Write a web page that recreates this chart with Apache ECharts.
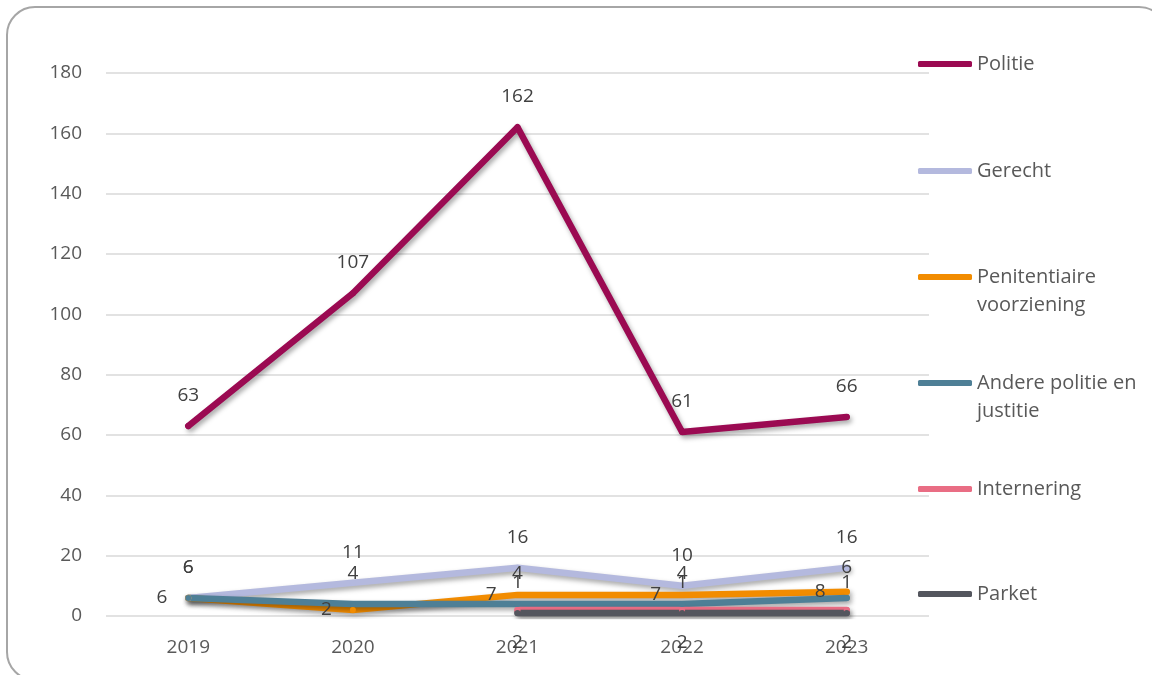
<!DOCTYPE html>
<html>
<head>
<meta charset="utf-8">
<script src="https://cdn.jsdelivr.net/npm/echarts@6/dist/echarts.min.js"></script>
<style>
html,body{margin:0;padding:0;background:#fff;}
#chart{width:1152px;height:675px;}
</style>
</head>
<body>
<div id="chart"></div>
<script>
const years = ['2019', '2020', '2021', '2022', '2023'];
const politie = [63, 107, 162, 61, 66];
const gerecht = [6, 11, 16, 10, 16];
const penitentiaire = [6, 2, 7, 7, 8];
const andere = [6, 4, 4, 4, 6];
const internering = [null, null, 2, 2, 2];
const parket = [null, null, 1, 1, 1];
const yTicks = [0, 20, 40, 60, 80, 100, 120, 140, 160, 180];

const FONT = 'Open Sans';
const chart = echarts.init(document.getElementById('chart'));

function mk(name, data, color, labelPos, dist) {
  return {
    name: name,
    type: 'line',
    data: data,
    symbol: 'circle',
    symbolSize: 6,
    showSymbol: true,
    color: color,
    itemStyle: { color: color },
    lineStyle: { color: color, width: 6.5, cap: 'round', join: 'round',
      shadowColor: 'rgba(0,0,0,0.35)', shadowBlur: 5, shadowOffsetX: 2, shadowOffsetY: 3 },
    label: { show: true, position: labelPos, distance: dist, color: '#404040',
      fontFamily: FONT, fontSize: 19 },
    emphasis: { disabled: true },
    animation: false
  };
}

// [name, vertical centre of icon, number of text lines]
const legendDefs = [
  ['Politie', 64, 1],
  ['Gerecht', 171, 1],
  ['Penitentiaire voorziening', 277, 3],
  ['Andere politie en justitie', 383, 3],
  ['Internering', 489, 1],
  ['Parket', 594, 1]
];
const legends = legendDefs.map(function (d) {
  return {
    data: [d[0]],
    left: 918,
    top: d[1] - d[2] * 14,
    padding: 0,
    orient: 'vertical',
    icon: 'roundRect',
    itemWidth: 54,
    itemHeight: 6,
    selectedMode: false,
    formatter: function (n) {
      if (n === 'Penitentiaire voorziening') return ' \nPenitentiaire\nvoorziening';
      if (n === 'Andere politie en justitie') return ' \nAndere politie en\njustitie';
      return n;
    },
    textStyle: { color: '#595959', fontFamily: FONT, fontSize: 20, lineHeight: 28 }
  };
});

chart.setOption({
  backgroundColor: '#ffffff',
  animation: false,
  graphic: [{
    type: 'rect',
    shape: { x: 7, y: 7, width: 1160, height: 673, r: 28 },
    style: { fill: 'none', stroke: '#A6A6A6', lineWidth: 2 },
    silent: true,
    z: -1
  }],
  grid: { left: 106, right: 223, top: 73, bottom: 59, containLabel: false },
  legend: legends,
  xAxis: {
    type: 'category',
    data: years,
    boundaryGap: true,
    axisLine: { show: false },
    axisTick: { show: false },
    axisLabel: { color: '#595959', fontFamily: FONT, fontSize: 19, margin: 22 }
  },
  yAxis: {
    type: 'value',
    min: yTicks[0],
    max: yTicks[yTicks.length - 1],
    interval: 20,
    axisLine: { show: false },
    axisTick: { show: false },
    splitLine: { lineStyle: { color: '#D9D9D9', width: 1.5 } },
    axisLabel: { color: '#595959', fontFamily: FONT, fontSize: 19, margin: 24 }
  },
  series: [
    mk('Politie', politie, '#9B0A52', 'top', 18),
    mk('Gerecht', gerecht, '#B4B9DE', 'top', 18),
    mk('Penitentiaire voorziening', penitentiaire, '#F28C00', 'left', 18),
    mk('Andere politie en justitie', andere, '#4E7F96', 'top', 18),
    mk('Internering', internering, '#E96D84', 'bottom', 20),
    mk('Parket', parket, '#54565E', 'top', 18)
  ]
});
</script>
</body>
</html>
